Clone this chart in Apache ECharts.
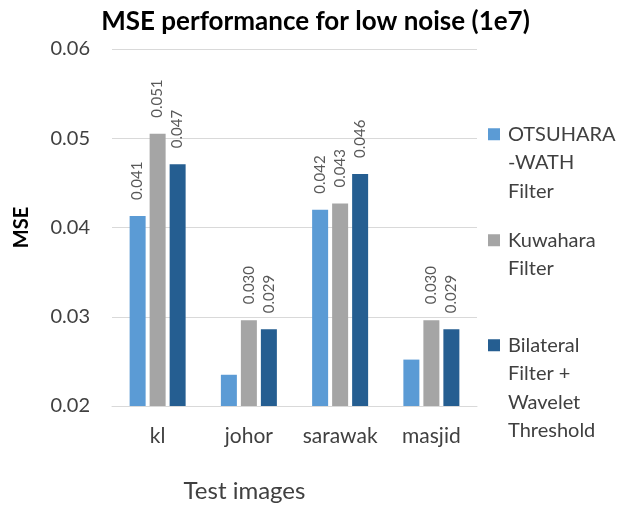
<!DOCTYPE html>
<html>
<head>
<meta charset="utf-8">
<script src="https://cdn.jsdelivr.net/npm/echarts@6/dist/echarts.min.js"></script>
<style>
html,body{margin:0;padding:0;background:#fff;}
#mse_bar_echart{width:631px;height:508px;}
</style>
</head>
<body>
<div id="mse_bar_echart"></div>
<script>
// data
var categories = ['kl', 'johor', 'sarawak', 'masjid'];
var otsuData = [0.0413, 0.0235, 0.0420, 0.0252];
var kuwaData = [0.0505, 0.0296, 0.0427, 0.0296];
var bilaData = [0.0471, 0.0286, 0.0460, 0.0286];
var otsuHiddenLabels = ['johor', 'masjid'];
var yTicks = [0.02, 0.03, 0.04, 0.05, 0.06];
var seriesNames = ['OTSUHARA\n-WATH\nFilter', 'Kuwahara\nFilter', 'Bilateral\nFilter +\nWavelet\nThreshold'];

var FONT = 'Lato';
var LINE_H = 28.5;

/*legend icon: square on the first text line*/
function legendIcon(lines) {
	var h = lines * LINE_H;
	var y = LINE_H / 2 - 6;
	return 'path://M0,0M0,' + y + 'h12v12h-12zM15,' + h;
}
function buildLegend(name, top) {
	var lines = name.split('\n').length;
	return {
		data: [{name: name, icon: legendIcon(lines)}],
		orient: 'vertical',
		left: 488,
		top: top,
		padding: 0,
		itemWidth: 15,
		itemHeight: lines * LINE_H,
		selectedMode: false,
		textStyle: {color: '#404040', fontSize: 20, fontFamily: FONT, lineHeight: LINE_H}
	};
}

function buildSeries(name, values, color, hidden) {
	var data = [];
	for (var i = 0; i < values.length; i++) {
		var item = {value: values[i]};
		if (hidden && hidden.indexOf(categories[i]) >= 0) {
			item.label = {show: false};
		}
		data.push(item);
	}
	return {
		name: name,
		type: 'bar',
		data: data,
		barWidth: 16,
		barGap: '25%',
		itemStyle: {color: color},
		label: {
			show: true,
			position: 'top',
			rotate: 90,
			align: 'left',
			verticalAlign: 'middle',
			distance: 16,
			color: '#595959',
			fontSize: 15,
			fontFamily: FONT,
			formatter: function (p) { return p.value.toFixed(3); }
		}
	};
}

var mse_bar_chart = echarts.init(document.getElementById('mse_bar_echart'));
var mse_bar_option = {
	animation: false,
	title: {
		text: 'MSE performance for low noise (1e7)',
		left: 'center',
		top: 4,
		textStyle: {color: '#000', fontSize: 26, fontWeight: 'bold', fontFamily: FONT}
	},
	legend: [
		buildLegend(seriesNames[0], 120),
		buildLegend(seriesNames[1], 226),
		buildLegend(seriesNames[2], 331)
	],
	grid: {left: 112, right: 154, top: 49, bottom: 99},
	xAxis: {
		type: 'category',
		data: categories,
		name: 'Test images',
		nameLocation: 'middle',
		nameGap: 73,
		nameTextStyle: {color: '#404040', fontSize: 24, fontFamily: FONT, padding: [0, 100, 0, 0]},
		axisLine: {lineStyle: {color: '#d9d9d9'}},
		axisTick: {show: false},
		axisLabel: {color: '#404040', fontSize: 21, fontFamily: FONT, margin: 20, interval: 0}
	},
	yAxis: {
		type: 'value',
		min: yTicks[0],
		max: yTicks[yTicks.length - 1],
		interval: 0.01,
		name: 'MSE',
		nameLocation: 'middle',
		nameGap: 80,
		nameTextStyle: {color: '#000', fontSize: 20, fontWeight: 'bold', fontFamily: FONT},
		axisLine: {show: false},
		axisTick: {show: false},
		splitLine: {lineStyle: {color: '#d9d9d9'}},
		axisLabel: {color: '#404040', fontSize: 20, fontFamily: FONT, margin: 22,
			formatter: function (v) { return v.toFixed(2); }}
	},
	series: [
		buildSeries(seriesNames[0], otsuData, '#5B9BD5', otsuHiddenLabels),
		buildSeries(seriesNames[1], kuwaData, '#A5A5A5'),
		buildSeries(seriesNames[2], bilaData, '#255E91')
	]
};
mse_bar_chart.setOption(mse_bar_option);
</script>
</body>
</html>
